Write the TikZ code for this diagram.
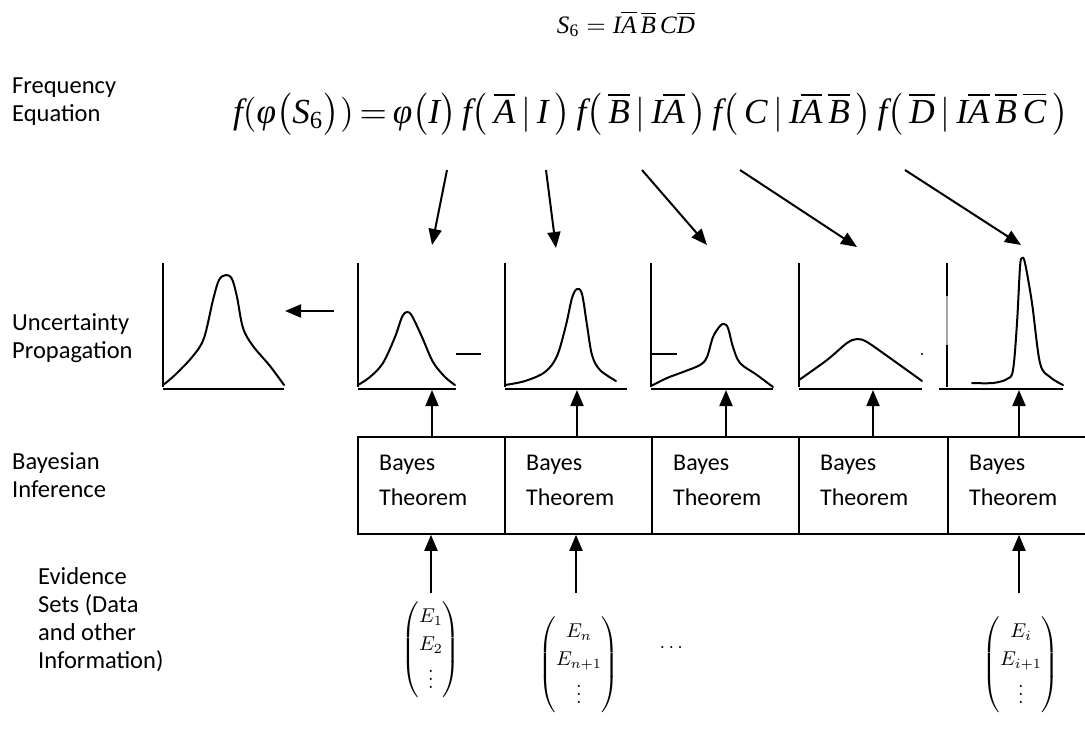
\documentclass[tikz,border=0pt]{standalone}
\usepackage{amsmath}
\usepackage{graphicx}
\usepackage{fontspec}
\newfontfamily\lab{Carlito}
\newfontfamily\tms{Liberation Serif}
\usetikzlibrary{arrows.meta}
\newcommand{\Ti}[1]{\text{\tms\itshape #1}}
\newcommand{\Tr}[1]{\text{\tms #1}}
\begin{document}
\begin{tikzpicture}[x=1pt,y=-1pt,
  lbl/.style={font=\lab\fontsize{24.5}{28}\selectfont, align=left, anchor=base west, inner sep=0pt},
  bbox/.style={draw, line width=1.8pt, minimum width=147pt, minimum height=97pt, inner sep=0pt, anchor=north west},
  btxt/.style={font=\lab\fontsize{24}{35}\selectfont, align=left, anchor=base west, inner sep=0pt},
  arr/.style={line width=2pt, -{Triangle[length=16pt,width=13pt]}},
  ax/.style={line width=2.2pt},
  crv/.style={line width=2pt, line join=round, line cap=round},
  ev/.style={inner sep=0pt}
]
\useasboundingbox (0,0) rectangle (1085,732);

% title
\node[anchor=base, inner sep=0pt] (title) at (626,33)
  {\resizebox{138pt}{!}{$\Ti{S}_{\Tr{6}} = \Ti{I}\overline{\Ti{A}}\,\overline{\Ti{B}}\,\Ti{C}\overline{\Ti{D}}$}};

% row labels (anchor = baseline of last line)
\node[lbl] (l1) at (12,121) {Frequency\\Equation};
\node[lbl] (l2) at (12,358) {Uncertainty\\Propagation};
\node[lbl] (l3) at (12,497) {Bayesian\\Inference};
\node[lbl] (l4) at (38,668) {Evidence\\Sets (Data\\and other\\Information)};

% frequency equation
\node[anchor=base west, inner sep=0pt] (fe) at (233,123)
  {\resizebox{835pt}{!}{$\Ti{f}(\Ti{φ}\bigl(\Ti{S}_{\Tr{6}}\bigr))\,{=}\,\Ti{φ}\bigl(\Ti{I}\bigr)\,\Ti{f}\bigl(\,\overline{\Ti{A}}\,|\,\Ti{I}\,\bigr)\,\Ti{f}\bigl(\,\overline{\Ti{B}}\,|\,\Ti{I}\overline{\Ti{A}}\,\bigr)\,\Ti{f}\bigl(\,\Ti{C}\,|\,\Ti{I}\overline{\Ti{A}}\,\overline{\Ti{B}}\,\bigr)\,\Ti{f}\bigl(\,\overline{\Ti{D}}\,|\,\Ti{I}\overline{\Ti{A}}\,\overline{\Ti{B}}\,\overline{\Ti{C}}\,\bigr)$}};

% arrows from equation to plots
\coordinate (d1) at (447,170); \coordinate (q1) at (432,245);
\coordinate (d2) at (546,170); \coordinate (q2) at (556,248);
\coordinate (d3) at (642,170); \coordinate (q3) at (707,245);
\coordinate (d4) at (740,170); \coordinate (q4) at (857,247);
\coordinate (d5) at (905,170); \coordinate (q5) at (1021,245);
\foreach \i in {1,...,5} \draw[arr] (d\i) -- (q\i);

% plot 0
\draw[ax] (163,263) -- (163,387);
\draw[ax] (163,389) -- (284,389);
\draw[crv] plot[smooth, tension=0.55] coordinates {(163,385) (175,375) (193,356) (204,338) (213,300) (219,280) (226,275) (232,279) (237,297) (243,328) (253,346) (270,366) (284,385)};
% propagation arrow
\coordinate (pa) at (334,311); \coordinate (pb) at (285,311);
\draw[arr] (pa) -- (pb);

% plot 1
\draw[ax] (358,263) -- (358,387);
\draw[ax] (358,389) -- (456,389);
\draw[crv] plot[smooth, tension=0.55] coordinates {(358,385) (370,377) (383,363) (395,337) (402,317) (407,312) (412,316) (422,337) (433,362) (445,377) (455,385)};
\draw[ax] (456,354) -- (481,354);

% plot 2
\draw[ax] (505,263) -- (505,387);
\draw[ax] (505,389) -- (627,389);
\draw[crv] plot[smooth, tension=0.55] coordinates {(505,385) (525,381) (545,372) (557,356) (566,325) (572,298) (577,289) (582,294) (587,325) (592,355) (600,370) (616,381)};

% plot 3
\draw[ax] (651,263) -- (651,387);
\draw[ax] (651,389) -- (773,389);
\draw[ax] (651,354) -- (677,354);
\draw[crv] plot[smooth, tension=0.55] coordinates {(651,386) (667,378) (683,372) (700,365) (707,357) (713,337) (720,326) (724,324) (728,328) (733,347) (740,363) (757,375) (773,387)};

% plot 4
\draw[ax] (799,263) -- (799,387);
\draw[ax] (799,389) -- (922,389);
\draw[crv] plot[smooth, tension=0.5] coordinates {(799,380) (827,360) (847,343) (857,339) (867,342) (890,358) (922,381)};
\fill (922,354) circle (1.2pt);

% plot 5
\draw[ax] (947,263) -- (947,296);
\draw[ax, gray!70] (947,296) -- (947,345);
\draw[ax] (947,345) -- (947,387);
\draw[ax] (939,389) -- (1063,389);
\draw[crv] plot[smooth, tension=0.55] coordinates {(972,383) (993,383) (1007,379) (1013,370) (1017,323) (1020,267) (1022,258) (1025,263) (1032,303) (1040,363) (1050,377) (1063,385)};

% Bayes boxes
\node[bbox] (b1) at (357,436) {};
\node[bbox] (b2) at (504,436) {};
\node[bbox] (b3) at (651,436) {};
\node[bbox, minimum width=149pt] (b4) at (798,436) {};
\node[bbox, minimum width=140pt] (b5) at (947,436) {};
\node[btxt] (t1) at (379,505) {Bayes\\Theorem};
\node[btxt] (t2) at (526,505) {Bayes\\Theorem};
\node[btxt] (t3) at (673,505) {Bayes\\Theorem};
\node[btxt] (t4) at (820,505) {Bayes\\Theorem};
\node[btxt] (t5) at (969,505) {Bayes\\Theorem};

% arrows from boxes to plots
\coordinate (p1) at (432,390);
\coordinate (p2) at (577,390);
\coordinate (p3) at (726,390);
\coordinate (p4) at (873,390);
\coordinate (p5) at (1019,390);
\draw[arr] (b1.north -| p1) -- (p1);
\draw[arr] (b2.north -| p2) -- (p2);
\draw[arr] (b3.north -| p3) -- (p3);
\draw[arr] (b4.north -| p4) -- (p4);
\draw[arr] (b5.north -| p5) -- (p5);

% evidence sets
\renewcommand{\arraystretch}{1.15}
\node[ev] (e1) at (431,650) {\scalebox{2.0}{$\begin{pmatrix}E_1\\E_2\\\vdots\end{pmatrix}$}};
\node[ev] (e2) at (579,665) {\scalebox{2.0}{$\begin{pmatrix}E_n\\E_{n+1}\\\vdots\end{pmatrix}$}};
\node[ev] (edots) at (673,648) {\scalebox{2.0}{$\cdots$}};
\node[ev] (e3) at (1021,665) {\scalebox{2.0}{$\begin{pmatrix}E_i\\E_{i+1}\\\vdots\end{pmatrix}$}};
\coordinate (ea1) at (431,593);
\coordinate (ea2) at (576,593);
\coordinate (ea3) at (1019,593);
\draw[arr] (ea1) -- (ea1 |- b1.south);
\draw[arr] (ea2) -- (ea2 |- b2.south);
\draw[arr] (ea3) -- (ea3 |- b5.south);
\end{tikzpicture}
\end{document}
